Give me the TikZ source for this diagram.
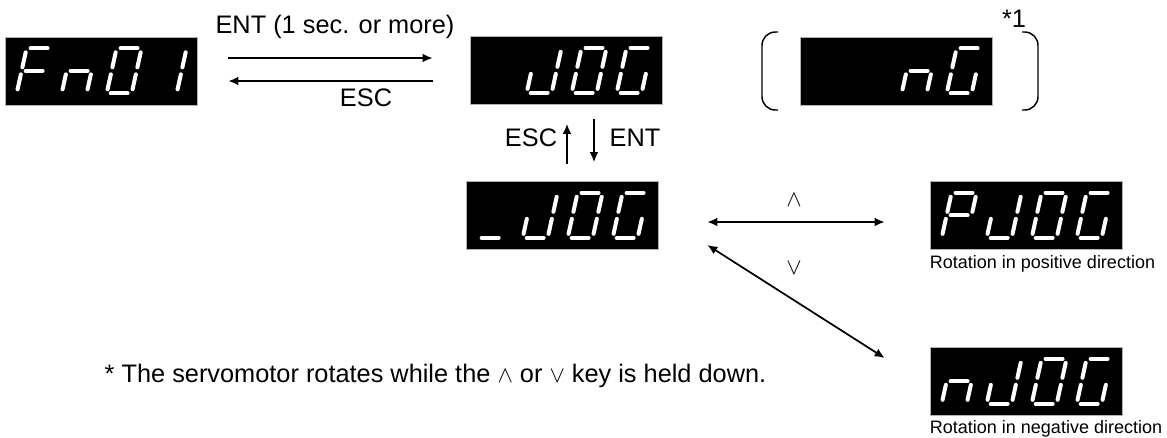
\documentclass[tikz,border=0pt]{standalone}
\usepackage{fontspec}
\setmainfont{Liberation Sans}
\usetikzlibrary{arrows.meta,calc,positioning}

\tikzset{
  lcd/.style={fill=black, draw=gray!60, line width=0.5pt, minimum width=144pt, minimum height=51pt, inner sep=0pt},
  seg/.style={white, line width=3pt, line cap=round},
  seg a/.style={insert path={(4,-45) -- (21,-45)}},
  seg b/.style={insert path={(25,-41) -- (25,-26)}},
  seg c/.style={insert path={(25,-19) -- (25,-4)}},
  seg d/.style={insert path={(4,0) -- (21,0)}},
  seg e/.style={insert path={(0,-4) -- (0,-19)}},
  seg f/.style={insert path={(0,-26) -- (0,-41)}},
  seg g/.style={insert path={(4,-22.5) -- (21,-22.5)}},
  conn/.style={line width=1.3pt},
  rotlabel/.style={inner sep=0pt, font=\fontsize{13.5}{16}\selectfont},
}

% one character of a display: node, cell (0..3), segments
\newcommand\lcdchar[3]{%
  \begin{scope}[shift={(#1.south west)}, shift={(12+45*#2,-12)}, xslant=0.22]
    \foreach \s in {#3}{\edef\segdraw{\noexpand\draw[seg, seg \s];}\segdraw}
  \end{scope}}
\newcommand\lcdJOG[1]{\lcdchar{#1}{1}{b,c,d,e}\lcdchar{#1}{2}{a,b,c,d,e,f}\lcdchar{#1}{3}{a,c,d,e,f}}

\begin{document}
\begin{tikzpicture}[x=0.75pt,y=-0.75pt,>={Latex[length=7.5pt,width=6.5pt]},font=\fontsize{19}{22}\selectfont]
  \useasboundingbox (0,0) rectangle (1167,437);

  % displays
  \node[lcd] (fn) at (101,71) {};
  \node[lcd] (jog) at (566,70.5) {};
  \node[lcd] (ng) at (896,71) {};
  \node[lcd] (jogsel) at (562,215.5) {};
  \node[lcd] (pjog) at (1026,215.5) {};
  \node[lcd] (njog) at (1026,381.5) {};

  \lcdchar{fn}{0}{a,e,f,g}
  \lcdchar{fn}{1}{c,e,g}
  \lcdchar{fn}{2}{a,b,c,d,e,f}
  \lcdchar{fn}{3}{b,c}
  \lcdJOG{jog}
  \lcdchar{ng}{2}{c,e,g}
  \lcdchar{ng}{3}{a,c,d,e,f}
  \lcdchar{jogsel}{0}{d}
  \lcdJOG{jogsel}
  \lcdchar{pjog}{0}{a,b,e,f,g}
  \lcdJOG{pjog}
  \lcdchar{njog}{0}{c,e,g}
  \lcdJOG{njog}

  % brackets round the nG display
  \draw[line width=1.1pt, rounded corners=10pt] (778,32) -- (762,32) -- (762,110) -- (778,110);
  \draw[line width=1.1pt, rounded corners=10pt] (1022,32) -- (1038,32) -- (1038,110) -- (1022,110);
  \node (star1) at (1014,19) {*1};

  % labels
  \node (entlong) at (335,27) {ENT (1 sec. or more)};
  \node (esctop) at (366,98) {ESC};
  \node (escup) at (531,138) {ESC};
  \node (entdown) at (635,138) {ENT};
  \node (keyup) at (794,200) {$\wedge$};
  \node (keydown) at (794,268) {$\vee$};
  \node[rotlabel, below right=4pt and 0pt of pjog.south west] (poslbl) {Rotation in positive direction};
  \node[rotlabel, below right=3pt and 0pt of njog.south west] (neglbl) {Rotation in negative direction};
  \node[anchor=west] (note) at (100,376) {* The servomotor rotates while the $\wedge$ or $\vee$ key is held down.};

  % arrows
  \draw[conn,->] ($(fn.east)+(31,-13)$) -- ($(jog.west)+(-37,-12.5)$);
  \draw[conn,->] ($(jog.west)+(-37,10.5)$) -- ($(fn.east)+(31,10)$);
  \draw[conn,->] ($(jogsel.north)+(5,-17)$) -- ($(jog.south)+(1,19)$);
  \draw[conn,->] ($(jog.south)+(28,14)$) -- ($(jogsel.north)+(32,-19)$);
  \draw[conn,<->] ($(jogsel.east)+(49,6.5)$) -- ($(pjog.west)+(-45,6.5)$);
  \draw[conn,<->] ($(jogsel.east)+(49,29.5)$) -- ($(njog.west)+(-45,-23.5)$);
\end{tikzpicture}
\end{document}
